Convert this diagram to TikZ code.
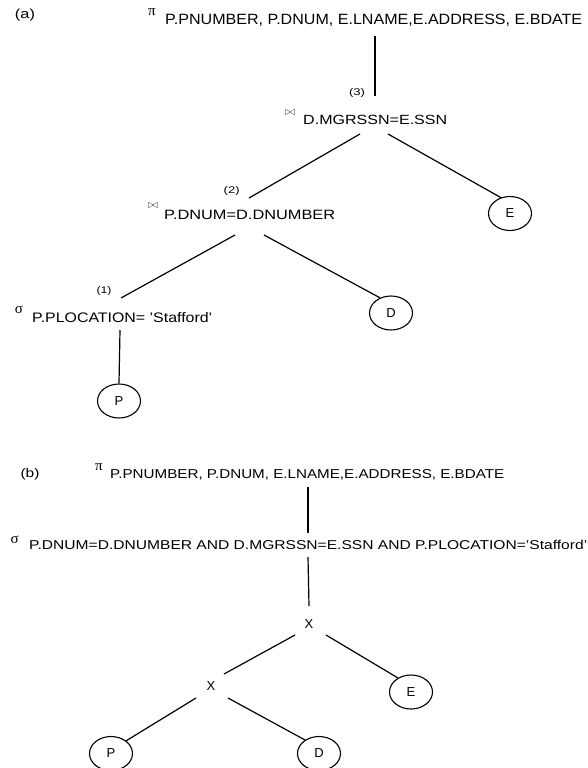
\documentclass[tikz,border=0pt]{standalone}
\usepackage{fontspec}
\setmainfont{Liberation Sans}
\newfontfamily\grk{Liberation Serif}
\usetikzlibrary{shapes.geometric}
% text stretched to a given width and height
\newcommand\fitbox[3]{\resizebox{#1pt}{#2pt}{#3}}
\begin{document}
\begin{tikzpicture}[x=1pt,y=-1pt,
  txt/.style={inner sep=0pt, anchor=base west},
  lbl/.style={inner sep=0pt},
  sym/.style={inner sep=0pt, font=\grk\fontsize{15}{17}\selectfont},
  bow/.style={inner sep=0pt, text=black!75},
  op/.style={inner sep=0pt, font=\fontsize{13}{15}\selectfont},
  rel/.style={ellipse, draw, line width=1.1pt, minimum width=43pt,
              minimum height=34pt, inner sep=0pt, font=\fontsize{13}{15}\selectfont},
  link/.style={line width=1.2pt}
]
\useasboundingbox (0,0) rectangle (588,768);

% ---------------- tree (a) ----------------
\node[lbl] (taga) at (25,15) {\fitbox{20}{9.5}{(a)}};
\node[sym] (pia) at (152,12.2) {π};
\node[txt] (proja) at (165,24) {\fitbox{417}{10.4}{P.PNUMBER, P.DNUM, E.LNAME,E.ADDRESS, E.BDATE}};

\node[lbl] (n3) at (357,92.8) {\fitbox{16}{7}{(3)}};
\node[bow] (bow3) at (290,113) {\scalebox{1.2}{$\bowtie$}};
\node[txt] (join3) at (303,124.3) {\fitbox{144}{9.3}{D.MGRSSN=E.SSN}};

\node[lbl] (n2) at (231.7,191.3) {\fitbox{16}{7}{(2)}};
\node[bow] (bow2) at (153,206) {\scalebox{1.2}{$\bowtie$}};
\node[txt] (join2) at (164,219.3) {\fitbox{171}{9.3}{P.DNUM=D.DNUMBER}};

\node[lbl] (n1) at (104,291) {\fitbox{15}{7}{(1)}};
\node[sym] (siga) at (19,310) {σ};
\node[txt] (sela) at (32,322) {\fitbox{180}{10}{P.PLOCATION= 'Stafford'}};

\node[rel] (Ea) at (510,213.5) {E};
\node[rel] (Da) at (391,313) {D};
\node[rel] (Pa) at (119,401) {P};

\coordinate (a1t) at (375,36);   \coordinate (a1b) at (375,96);
\coordinate (a2t) at (360,134);  \coordinate (a2b) at (249,198);
\coordinate (a3t) at (388,134);
\coordinate (a4t) at (235,235);  \coordinate (a4b) at (121,298);
\coordinate (a5t) at (264,235);
\coordinate (a6t) at (120,330);

\draw[link] (a1t) -- (a1b);
\draw[link] (a2t) -- (a2b);
\draw[link] (a3t) -- (Ea.120);
\draw[link] (a4t) -- (a4b);
\draw[link] (a5t) -- (Da.126);
\draw[link] (a6t) -- (Pa.north);

% ---------------- tree (b) ----------------
\node[lbl] (tagb) at (30,474) {\fitbox{19}{9}{(b)}};
\node[sym] (pib) at (99,466.7) {π};
\node[txt] (projb) at (110,478.3) {\fitbox{394}{9}{P.PNUMBER, P.DNUM, E.LNAME,E.ADDRESS, E.BDATE}};

\node[sym] (sigb) at (14.7,540) {σ};
\node[txt] (selb) at (29,549.5) {\fitbox{558}{9.3}{P.DNUM=D.DNUMBER AND D.MGRSSN=E.SSN AND P.PLOCATION='Stafford'}};

\node[op] (x1) at (309,624) {X};
\node[op] (x2) at (211,686) {X};

\node[rel] (Eb) at (411,692) {E};
\node[rel] (Pb) at (111,753.5) {P};
\node[rel] (Db) at (319,753.5) {D};

\coordinate (b1t) at (308,487);  \coordinate (b1b) at (308,533);
\coordinate (b2t) at (308,557);  \coordinate (b2b) at (309,606);
\coordinate (b3t) at (295,635);  \coordinate (b3b) at (224,674);
\coordinate (b4t) at (326,635);
\coordinate (b5t) at (196,698);
\coordinate (b6t) at (228,698);

\draw[link] (b1t) -- (b1b);
\draw[link] (b2t) -- (b2b);
\draw[link] (b3t) -- (b3b);
\draw[link] (b4t) -- (Eb.133);
\draw[link] (b5t) -- (Pb.40);
\draw[link] (b6t) -- (Db.136);
\end{tikzpicture}
\end{document}
